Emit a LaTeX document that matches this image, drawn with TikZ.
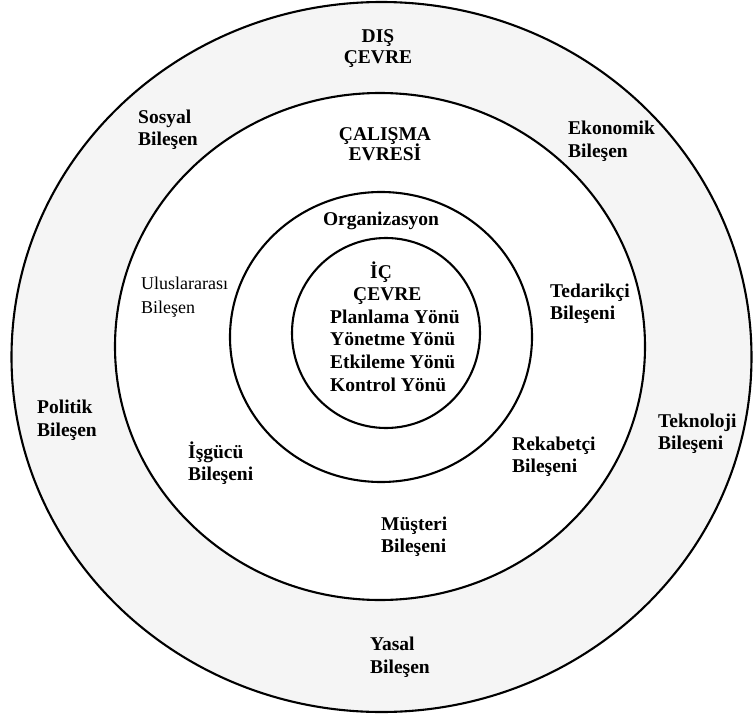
\documentclass[tikz,border=0pt]{standalone}
\usepackage{fontspec}
\setmainfont{Liberation Serif}
\definecolor{ringgray}{RGB}{245,245,245}
\newcommand\lblL[2][22.5pt]{\vtop{\baselineskip=#1\lineskiplimit=-\maxdimen\halign{##\hfil\cr#2\crcr}}}
\newcommand\lblC[2][22.5pt]{\vtop{\baselineskip=#1\lineskiplimit=-\maxdimen\halign{\hfil##\hfil\cr#2\crcr}}}
\begin{document}
\begin{tikzpicture}[x=1pt,y=-1pt,
  ring/.style={line width=2.1pt},
  lbl/.style={inner sep=0pt, font=\fontsize{19.5}{22.5}\selectfont\bfseries, anchor=base west},
  lblc/.style={lbl, anchor=base},
  lblthin/.style={inner sep=0pt, font=\fontsize{18}{22.5}\selectfont, anchor=base west}]
\useasboundingbox (0,0) rectangle (753,715);
\fill[white] (0,0) rectangle (753,715);
% rings
\filldraw[ring, fill=ringgray] (381.5,357) ellipse [x radius=370, y radius=355];
\filldraw[ring, fill=white] (380,346.5) ellipse [x radius=265, y radius=253.5];
\draw[ring] (381,337) ellipse [x radius=151, y radius=145];
\draw[ring] (386,333) ellipse [x radius=94, y radius=95];
% labels
\node[lblc] (dis) at (378,42) {\lblC[21pt]{DIŞ\cr ÇEVRE}};
\node[lblc] (calisma) at (385,140) {\lblC[20pt]{ÇALIŞMA\cr EVRESİ}};
\node[lbl] (sosyal) at (138,123) {\lblL[22pt]{Sosyal\cr Bileşen}};
\node[lbl] (ekonomik) at (568,134) {\lblL[23pt]{Ekonomik\cr Bileşen}};
\node[lblc] (org) at (381,225) {Organizasyon};
\node[lblthin] (ulus) at (141,289) {\lblL[24pt]{Uluslararası\cr Bileşen}};
\node[lbl] (tedarik) at (550,297) {\lblL[22pt]{Tedarikçi\cr Bileşeni}};
\node[lbl] (ic) at (330,278) {\lblL[22.6pt]{\kern40pt İÇ\cr \kern23pt ÇEVRE\cr Planlama Yönü\cr Yönetme Yönü\cr Etkileme Yönü\cr Kontrol Yönü}};
\node[lbl] (politik) at (37,413) {\lblL[23pt]{Politik\cr Bileşen}};
\node[lbl] (isgucu) at (188,458) {\lblL[22pt]{İşgücü\cr Bileşeni}};
\node[lbl] (teknoloji) at (658,427) {\lblL[22pt]{Teknoloji\cr Bileşeni}};
\node[lbl] (rekabet) at (512,450) {\lblL[22pt]{Rekabetçi\cr Bileşeni}};
\node[lbl] (musteri) at (381,530) {\lblL[22pt]{Müşteri\cr Bileşeni}};
\node[lbl] (yasal) at (370,650) {\lblL[23pt]{Yasal\cr Bileşen}};
\end{tikzpicture}
\end{document}
